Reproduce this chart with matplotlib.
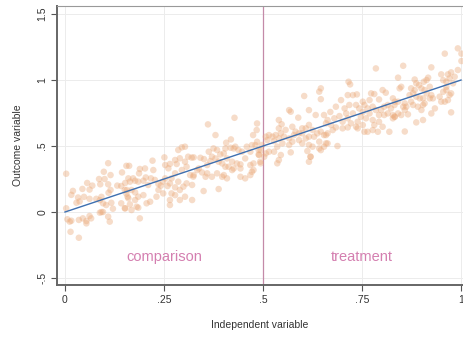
import matplotlib
matplotlib.use("Agg")
import matplotlib.pyplot as plt

plt.rcParams['font.family'] = ['Liberation Sans Narrow', 'Liberation Sans', 'DejaVu Sans']

# scatter data
x_vals = [
    0.003, 0.109, 0.098, 0.115, 0.086, 0.100, 0.144, 0.155, 0.056, 0.069, 0.089, 0.109, 0.044, 0.020, 0.016,
    0.062, 0.048, 0.033, 0.029, 0.037, 0.062, 0.079, 0.092, 0.110, 0.115, 0.132, 0.142, 0.151, 0.155, 0.088,
    0.096, 0.104, 0.117, 0.121, 0.092, 0.096, 0.142, 0.151, 0.003, 0.006, 0.016, 0.012, 0.035, 0.045, 0.054,
    0.066, 0.062, 0.054, 0.088, 0.109, 0.113, 0.014, 0.035,
    0.162, 0.189, 0.202, 0.223, 0.221, 0.251, 0.187, 0.160, 0.172, 0.152, 0.164, 0.177, 0.185, 0.198, 0.204,
    0.217, 0.227, 0.210, 0.236, 0.242, 0.248, 0.259, 0.265, 0.278, 0.286, 0.253, 0.265, 0.261, 0.278, 0.282,
    0.290, 0.286, 0.295, 0.303, 0.311, 0.320, 0.303, 0.307, 0.295, 0.278, 0.316, 0.324, 0.307, 0.299, 0.290,
    0.269, 0.278, 0.303, 0.290, 0.265, 0.265, 0.248, 0.236, 0.231, 0.215, 0.206, 0.185, 0.198, 0.177, 0.168,
    0.156, 0.158, 0.164, 0.168, 0.181, 0.185, 0.152, 0.189, 0.160, 0.177, 0.253, 0.269,
    0.361, 0.428, 0.380, 0.485, 0.484, 0.475, 0.407, 0.419, 0.485, 0.472, 0.325, 0.342, 0.351, 0.363, 0.375,
    0.384, 0.371, 0.392, 0.401, 0.405, 0.418, 0.426, 0.430, 0.438, 0.447, 0.459, 0.468, 0.481, 0.489, 0.489,
    0.493, 0.367, 0.380, 0.388, 0.359, 0.397, 0.409, 0.422, 0.434, 0.443, 0.455, 0.468, 0.476, 0.338, 0.346,
    0.359, 0.355, 0.371, 0.384, 0.397, 0.405, 0.413, 0.422, 0.426, 0.443, 0.455, 0.468, 0.472, 0.476, 0.401,
    0.409, 0.443, 0.321, 0.334, 0.325, 0.388, 0.350, 0.321,
    0.646, 0.642, 0.646, 0.604, 0.616, 0.633, 0.654, 0.566, 0.570, 0.589, 0.540, 0.547, 0.616, 0.608, 0.599,
    0.625, 0.574, 0.557, 0.582, 0.540, 0.545, 0.532, 0.524, 0.515, 0.507, 0.553, 0.566, 0.578, 0.591, 0.599,
    0.608, 0.616, 0.629, 0.637, 0.646, 0.654, 0.663, 0.511, 0.528, 0.540, 0.549, 0.566, 0.574, 0.591, 0.599,
    0.616, 0.625, 0.642, 0.654, 0.663, 0.498, 0.494, 0.490, 0.507, 0.528, 0.536, 0.515, 0.570, 0.612, 0.620,
    0.642, 0.646, 0.545, 0.540, 0.536, 0.503, 0.494, 0.616, 0.620,
    0.785, 0.716, 0.720, 0.714, 0.727, 0.737, 0.752, 0.773, 0.781, 0.802, 0.810, 0.793, 0.684, 0.697, 0.670,
    0.706, 0.718, 0.727, 0.735, 0.743, 0.752, 0.756, 0.769, 0.777, 0.764, 0.785, 0.798, 0.806, 0.815, 0.823,
    0.832, 0.710, 0.693, 0.680, 0.663, 0.659, 0.701, 0.714, 0.722, 0.739, 0.747, 0.760, 0.769, 0.777, 0.793,
    0.806, 0.815, 0.828, 0.793, 0.802, 0.781, 0.672, 0.676, 0.684, 0.701, 0.714, 0.735, 0.739, 0.752, 0.756,
    0.764, 0.777, 0.790, 0.819, 0.832, 0.659, 0.659, 0.688,
    0.992, 1.001, 0.959, 1.001, 0.925, 0.854, 0.841, 0.992, 0.975, 0.967, 0.950, 0.984, 0.971, 0.955, 0.963,
    0.980, 0.963, 0.917, 0.913, 0.906, 0.894, 0.883, 0.887, 0.845, 0.849, 0.874, 0.883, 0.879, 0.870, 0.900,
    0.908, 0.921, 0.925, 0.913, 0.887, 0.896, 0.904, 0.921, 0.929, 0.955, 0.963, 0.971, 0.975, 0.967, 0.950,
    0.959, 0.946, 0.828, 0.833, 0.841, 0.858, 0.862, 0.874, 0.879, 0.891, 0.904, 0.908, 0.854, 0.858, 0.866,
    0.849, 0.900, 0.934, 0.925, 0.975, 0.841, 0.833, 0.828, 0.904, 0.887, 0.858,
]
y_vals = [
    0.290, 0.370, 0.305, 0.280, 0.250, 0.250, 0.300, 0.350, 0.220, 0.200, 0.210, 0.210, 0.175, 0.160, 0.130,
    0.170, 0.115, 0.110, 0.070, 0.080, 0.100, 0.100, 0.115, 0.146, 0.167, 0.200, 0.197, 0.167, 0.140, 0.090,
    0.066, 0.053, 0.070, 0.025, 0.000, 0.000, 0.066, 0.028, 0.028, -0.055, -0.066, -0.073, -0.060, -0.048, -0.068,
    -0.048, -0.030, -0.086, -0.005, -0.035, -0.073, -0.150, -0.195,
    0.350, 0.326, 0.330, 0.318, 0.389, 0.414, 0.293, 0.255, 0.255, 0.220, 0.230, 0.237, 0.230, 0.237, 0.262,
    0.255, 0.243, 0.205, 0.212, 0.200, 0.230, 0.197, 0.217, 0.187, 0.230, 0.356, 0.364, 0.331, 0.394, 0.364,
    0.407, 0.470, 0.490, 0.495, 0.419, 0.412, 0.381, 0.343, 0.318, 0.293, 0.280, 0.268, 0.217, 0.192, 0.167,
    0.141, 0.128, 0.116, 0.091, 0.091, 0.053, 0.141, 0.167, 0.116, 0.078, 0.066, 0.116, 0.128, 0.149, 0.167,
    0.167, 0.116, 0.058, 0.015, 0.040, 0.033, 0.028, -0.048, 0.104, 0.091, 0.255, 0.255,
    0.664, 0.714, 0.583, 0.671, 0.621, 0.583, 0.525, 0.550, 0.532, 0.507, 0.414, 0.411, 0.401, 0.457, 0.482,
    0.470, 0.419, 0.436, 0.444, 0.482, 0.487, 0.482, 0.495, 0.470, 0.457, 0.495, 0.457, 0.507, 0.470, 0.436,
    0.381, 0.386, 0.406, 0.381, 0.356, 0.368, 0.406, 0.381, 0.368, 0.361, 0.406, 0.356, 0.368, 0.330, 0.300,
    0.293, 0.267, 0.267, 0.293, 0.267, 0.343, 0.343, 0.318, 0.330, 0.330, 0.255, 0.280, 0.305, 0.318, 0.280,
    0.255, 0.267, 0.205, 0.318, 0.280, 0.174, 0.159, 0.091,
    0.937, 0.912, 0.855, 0.879, 0.772, 0.735, 0.735, 0.772, 0.760, 0.715, 0.697, 0.665, 0.660, 0.634, 0.634,
    0.622, 0.646, 0.622, 0.609, 0.634, 0.596, 0.583, 0.571, 0.583, 0.571, 0.571, 0.558, 0.583, 0.596, 0.596,
    0.558, 0.571, 0.571, 0.596, 0.609, 0.583, 0.596, 0.545, 0.538, 0.558, 0.520, 0.508, 0.533, 0.545, 0.520,
    0.508, 0.495, 0.533, 0.495, 0.520, 0.508, 0.469, 0.432, 0.444, 0.457, 0.495, 0.457, 0.452, 0.462, 0.419,
    0.482, 0.469, 0.432, 0.394, 0.369, 0.419, 0.369, 0.381, 0.419,
    1.088, 0.987, 0.967, 0.886, 0.886, 0.891, 0.836, 0.899, 0.894, 0.924, 0.904, 0.853, 0.798, 0.848, 0.758,
    0.785, 0.811, 0.747, 0.811, 0.785, 0.758, 0.811, 0.848, 0.798, 0.785, 0.773, 0.773, 0.798, 0.811, 0.785,
    0.811, 0.747, 0.727, 0.710, 0.697, 0.672, 0.684, 0.710, 0.672, 0.684, 0.722, 0.710, 0.747, 0.697, 0.735,
    0.735, 0.747, 0.735, 0.684, 0.646, 0.659, 0.660, 0.621, 0.641, 0.634, 0.641, 0.646, 0.634, 0.659, 0.608,
    0.608, 0.621, 0.608, 0.608, 0.722, 0.583, 0.520, 0.500,
    1.240, 1.200, 1.200, 1.144, 1.096, 1.108, 1.018, 1.076, 1.058, 1.043, 1.043, 1.025, 1.013, 0.999, 0.987,
    0.975, 0.949, 1.018, 1.000, 0.987, 0.962, 1.004, 0.975, 0.937, 0.949, 0.937, 0.924, 0.899, 0.886, 0.937,
    0.924, 0.949, 0.886, 0.899, 0.874, 0.861, 0.861, 0.861, 0.861, 0.911, 0.924, 0.886, 0.899, 0.848, 0.836,
    0.836, 0.874, 0.861, 0.836, 0.836, 0.823, 0.798, 0.836, 0.811, 0.798, 0.811, 0.823, 0.798, 0.773, 0.740,
    0.735, 0.773, 0.785, 0.747, 0.755, 0.747, 0.722, 0.710, 0.697, 0.679, 0.610,
]

# fitted line
fit_x = [0.0, 1.0]
fit_y = [0.0, 1.0]

cutoff = 0.5
group_labels = ["comparison", "treatment"]
group_label_x = [0.25, 0.75]
group_label_y = -0.34

x_ticks = [0, 0.25, 0.5, 0.75, 1]
x_ticklabels = ["0", ".25", ".5", ".75", "1"]
y_ticks = [-0.5, 0, 0.5, 1, 1.5]
y_ticklabels = ["-.5", "0", ".5", "1", "1.5"]

fig = plt.figure(figsize=(4.63, 3.37), dpi=100)
ax = fig.add_axes([0.1231, 0.1543, 0.8769, 0.8279])

ax.scatter(x_vals, y_vals, s=22, color='#eaa878', alpha=0.4, edgecolors='none', zorder=2)
ax.plot(fit_x, fit_y, color='#3d6fb0', lw=1.0, zorder=3)
ax.axvline(cutoff, color='#c48aa8', lw=0.9, zorder=1)

for lab, lx in zip(group_labels, group_label_x):
    ax.text(lx, group_label_y, lab, color='#d47fb0', fontsize=10.5, ha='center', va='center', zorder=4)

ax.set_xlim(-0.0202, 1.005)
ax.set_ylim(-0.553, 1.561)
ax.set_xticks(x_ticks)
ax.set_xticklabels(x_ticklabels, fontsize=7.5, color='#333333')
ax.set_yticks(y_ticks)
ax.set_yticklabels(y_ticklabels, fontsize=7.5, color='#333333', rotation=90, va='center')
ax.tick_params(axis='both', length=4, width=0.8, color='#555555', pad=3)
ax.grid(True, color='#ececec', lw=0.7, zorder=0)
ax.set_axisbelow(True)

for side in ['left', 'bottom']:
    ax.spines[side].set_color('#666666')
    ax.spines[side].set_linewidth(1.4)
ax.spines['top'].set_color('#999999')
ax.spines['top'].set_linewidth(0.8)
ax.spines['right'].set_visible(False)

ax.set_xlabel("Independent variable", fontsize=7.5, color='#333333', labelpad=11)
ax.set_ylabel("Outcome variable", fontsize=7.5, color='#333333', labelpad=10)

fig.savefig("out.png", dpi=100)
